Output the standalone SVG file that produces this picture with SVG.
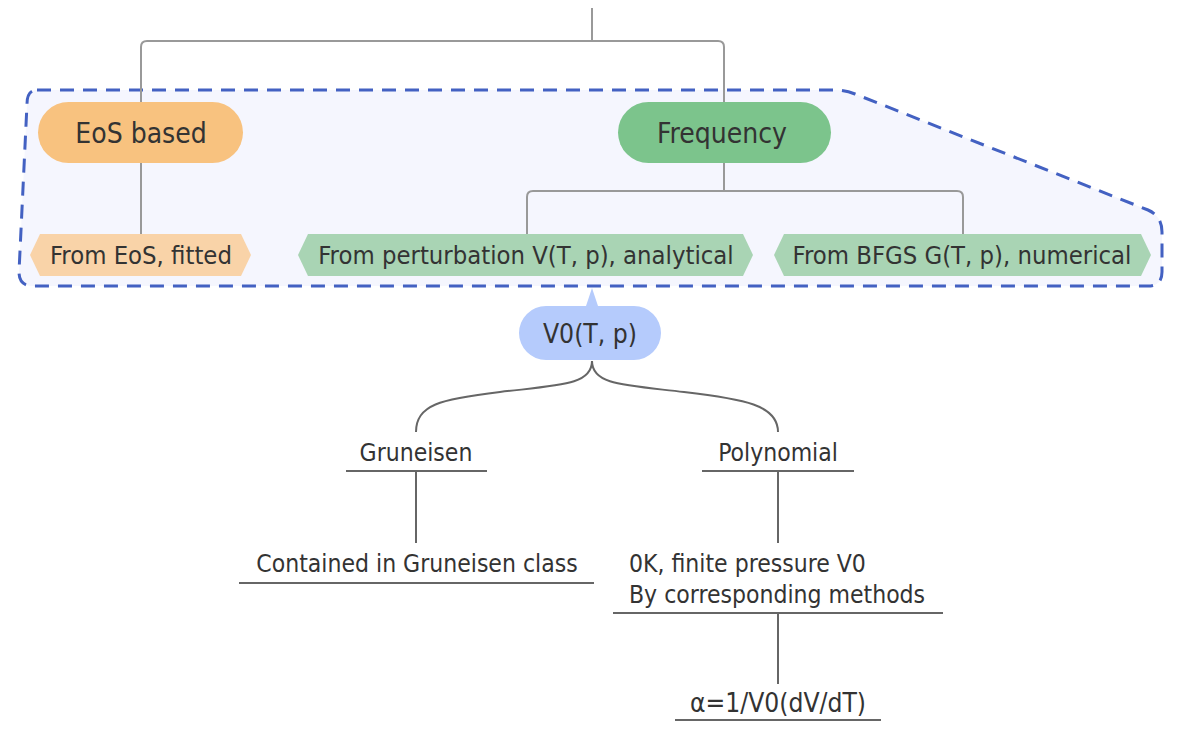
<svg xmlns="http://www.w3.org/2000/svg" width="1192" height="734" viewBox="0 0 1192 734">
<style>
text{font-family:"DejaVu Sans","Liberation Sans",sans-serif;font-stretch:condensed;fill:#333;text-anchor:middle}
.t20{font-size:24.5px}
.th{font-size:25.4px}
.t24{font-size:28px}
.c1{fill:none;stroke:#999;stroke-width:2}
.c2{fill:none;stroke:#666;stroke-width:2}
</style>
<rect width="1192" height="734" fill="#fff"/>
<g id="boundary">
<path d="M37,90 L835,90 Q845,90 855,94 L1148,210 Q1162,216 1162,232 L1162,272 Q1162,286 1148,286 L33,286 Q19,286 19,272 L27,104 Q27,90 37,90 Z" fill="#f5f6fe" stroke="#4361c2" stroke-width="3" stroke-dasharray="14 9"/>
</g>
<g id="connectors">
<path class="c1" d="M592,8 V41 M141,102 V47 Q141,41 147,41 H718 Q724,41 724,47 V102"/>
<path class="c1" d="M141,163 V234"/>
<path class="c1" d="M724,163 V191 M527,234 V197 Q527,191 533,191 H957 Q963,191 963,197 V234"/>
<path class="c2" d="M592,361 C592,385 560,385 500,392 C440,399 416,405 416,432"/>
<path class="c2" d="M592,361 C592,385 624,385 684,392 C744,399 778,405 778,432"/>
<path class="c2" d="M416,471 V543 M778,471 V543 M778,613 V684"/>
</g>
<g id="root-eos">
<rect x="38" y="102" width="205" height="61" rx="30.5" fill="#f8c27f"/>
<text class="t24" x="141" y="143">EoS based</text>
</g>
<g id="root-freq">
<rect x="618" y="102" width="213" height="61" rx="30.5" fill="#7cc48c"/>
<text class="t24" x="722" y="143">Frequency</text>
</g>
<g id="eos-fitted">
<polygon points="30,255 40,234 241,234 251,255 241,276 40,276" fill="#f9d3a8"/>
<text class="th" x="141" y="264">From EoS, fitted</text>
</g>
<g id="perturbation">
<polygon points="298,255 308,234 743,234 753,255 743,276 308,276" fill="#a9d4b4"/>
<text class="th" x="526" y="264">From perturbation V(T, p), analytical</text>
</g>
<g id="bfgs">
<polygon points="774,255 784,234 1141,234 1151,255 1141,276 784,276" fill="#a9d4b4"/>
<text class="th" x="962" y="264">From BFGS G(T, p), numerical</text>
</g>
<g id="v0">
<path d="M546,306 H586 L592,288 L598,306 H634 A27,27 0 0 1 634,360 H546 A27,27 0 0 1 546,306 Z" fill="#b5cbfc"/>
<text x="590" y="343" style="font-size:26.3px">V0(T, p)</text>
</g>
<g id="gruneisen">
<text class="t20" x="416" y="461">Gruneisen</text>
<line x1="346" y1="471" x2="487" y2="471" stroke="#666" stroke-width="2"/>
</g>
<g id="contained">
<text class="t20" x="417" y="572">Contained in Gruneisen class</text>
<line x1="239" y1="583" x2="594" y2="583" stroke="#666" stroke-width="2"/>
</g>
<g id="polynomial">
<text class="t20" x="778" y="461">Polynomial</text>
<line x1="702" y1="471" x2="854" y2="471" stroke="#666" stroke-width="2"/>
</g>
<g id="finite">
<text class="t20" x="629" y="572" style="text-anchor:start">0K, finite pressure V0</text>
<text class="t20" x="629" y="603" style="text-anchor:start">By corresponding methods</text>
<line x1="613" y1="613" x2="943" y2="613" stroke="#666" stroke-width="2"/>
</g>
<g id="alpha">
<text x="778" y="712" style="font-size:26.2px">α=1/V0(dV/dT)</text>
<line x1="675" y1="720" x2="881" y2="720" stroke="#666" stroke-width="2"/>
</g>
</svg>
